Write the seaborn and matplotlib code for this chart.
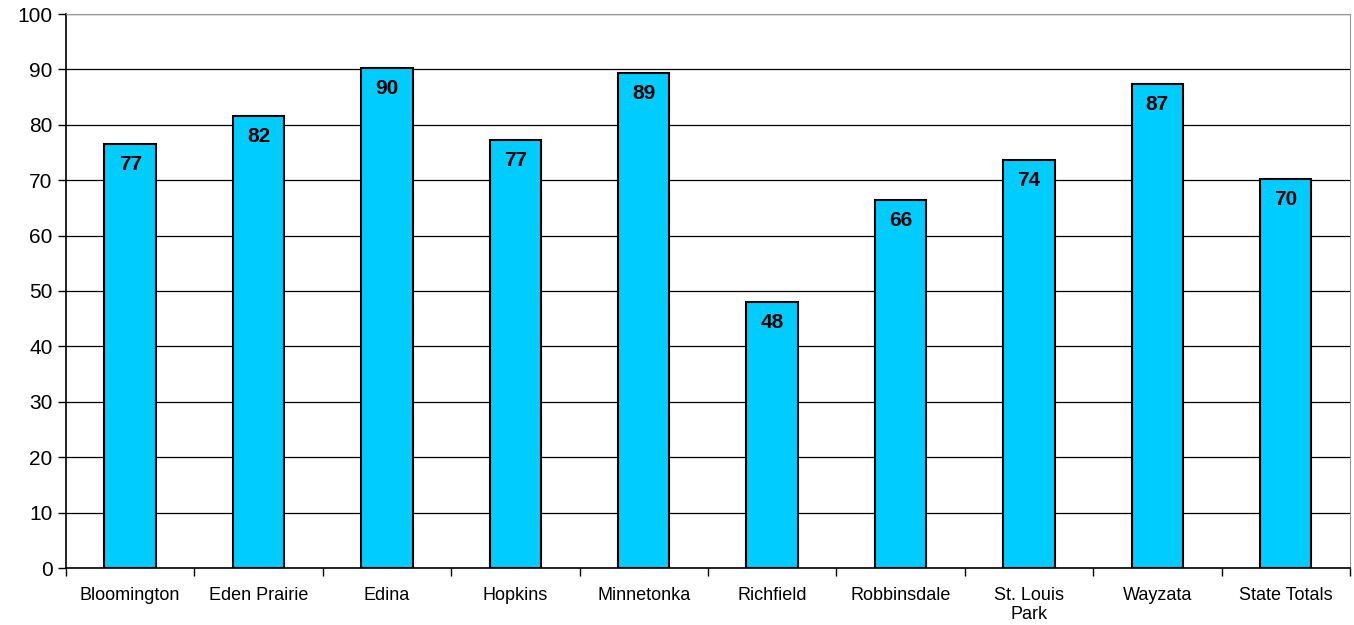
import numpy as np
import pandas as pd
import seaborn as sns
import matplotlib.pyplot as plt

districts = ["Bloomington", "Eden Prairie", "Edina", "Hopkins", "Minnetonka",
             "Richfield", "Robbinsdale", "St. Louis\nPark", "Wayzata", "State Totals"]
scores = [76.6, 81.6, 90.2, 77.3, 89.4, 48.0, 66.4, 73.6, 87.4, 70.2]

df = pd.DataFrame({"District": districts, "Score": scores})

sns.set_style("white")
plt.rcParams["font.family"] = ["Liberation Sans", "DejaVu Sans"]

fig = plt.figure(figsize=(13.54, 6.25), dpi=100)
ax = fig.add_axes([0.0487, 0.0912, 0.9483, 0.8864])

sns.barplot(data=df, x="District", y="Score", color="#00CCFF", width=0.4,
            edgecolor="black", linewidth=1.5, saturation=1, ax=ax, zorder=3)

for i, v in enumerate(scores):
    ax.text(i, v - 2.0, f"{round(v)}", ha="center", va="top", color="black",
            fontsize=15, fontweight="bold", zorder=4)

ax.set_ylim(0, 100)
ax.set_xlim(-0.5, len(districts) - 0.5)
ax.set_yticks(range(0, 101, 10))
ax.yaxis.grid(True, color="black", linewidth=0.9, zorder=0)
ax.set_xlabel("")
ax.set_ylabel("")

ax.tick_params(axis="y", labelsize=15, length=6, width=1, direction="out", left=True,
               color="black", labelcolor="black")
ax.tick_params(axis="x", which="major", labelsize=13, length=0, pad=14, labelcolor="black")
ax.set_xticks(np.arange(-0.5, len(districts), 1), minor=True)
ax.tick_params(axis="x", which="minor", length=6, width=1, bottom=True, color="black")
for lbl in ax.get_xticklabels():
    lbl.set_linespacing(1.1)

for side in ["top", "right"]:
    ax.spines[side].set_color("#999999")
for side in ["left", "bottom"]:
    ax.spines[side].set_color("black")
    ax.spines[side].set_linewidth(1.2)

fig.savefig("out.png", dpi=100)
